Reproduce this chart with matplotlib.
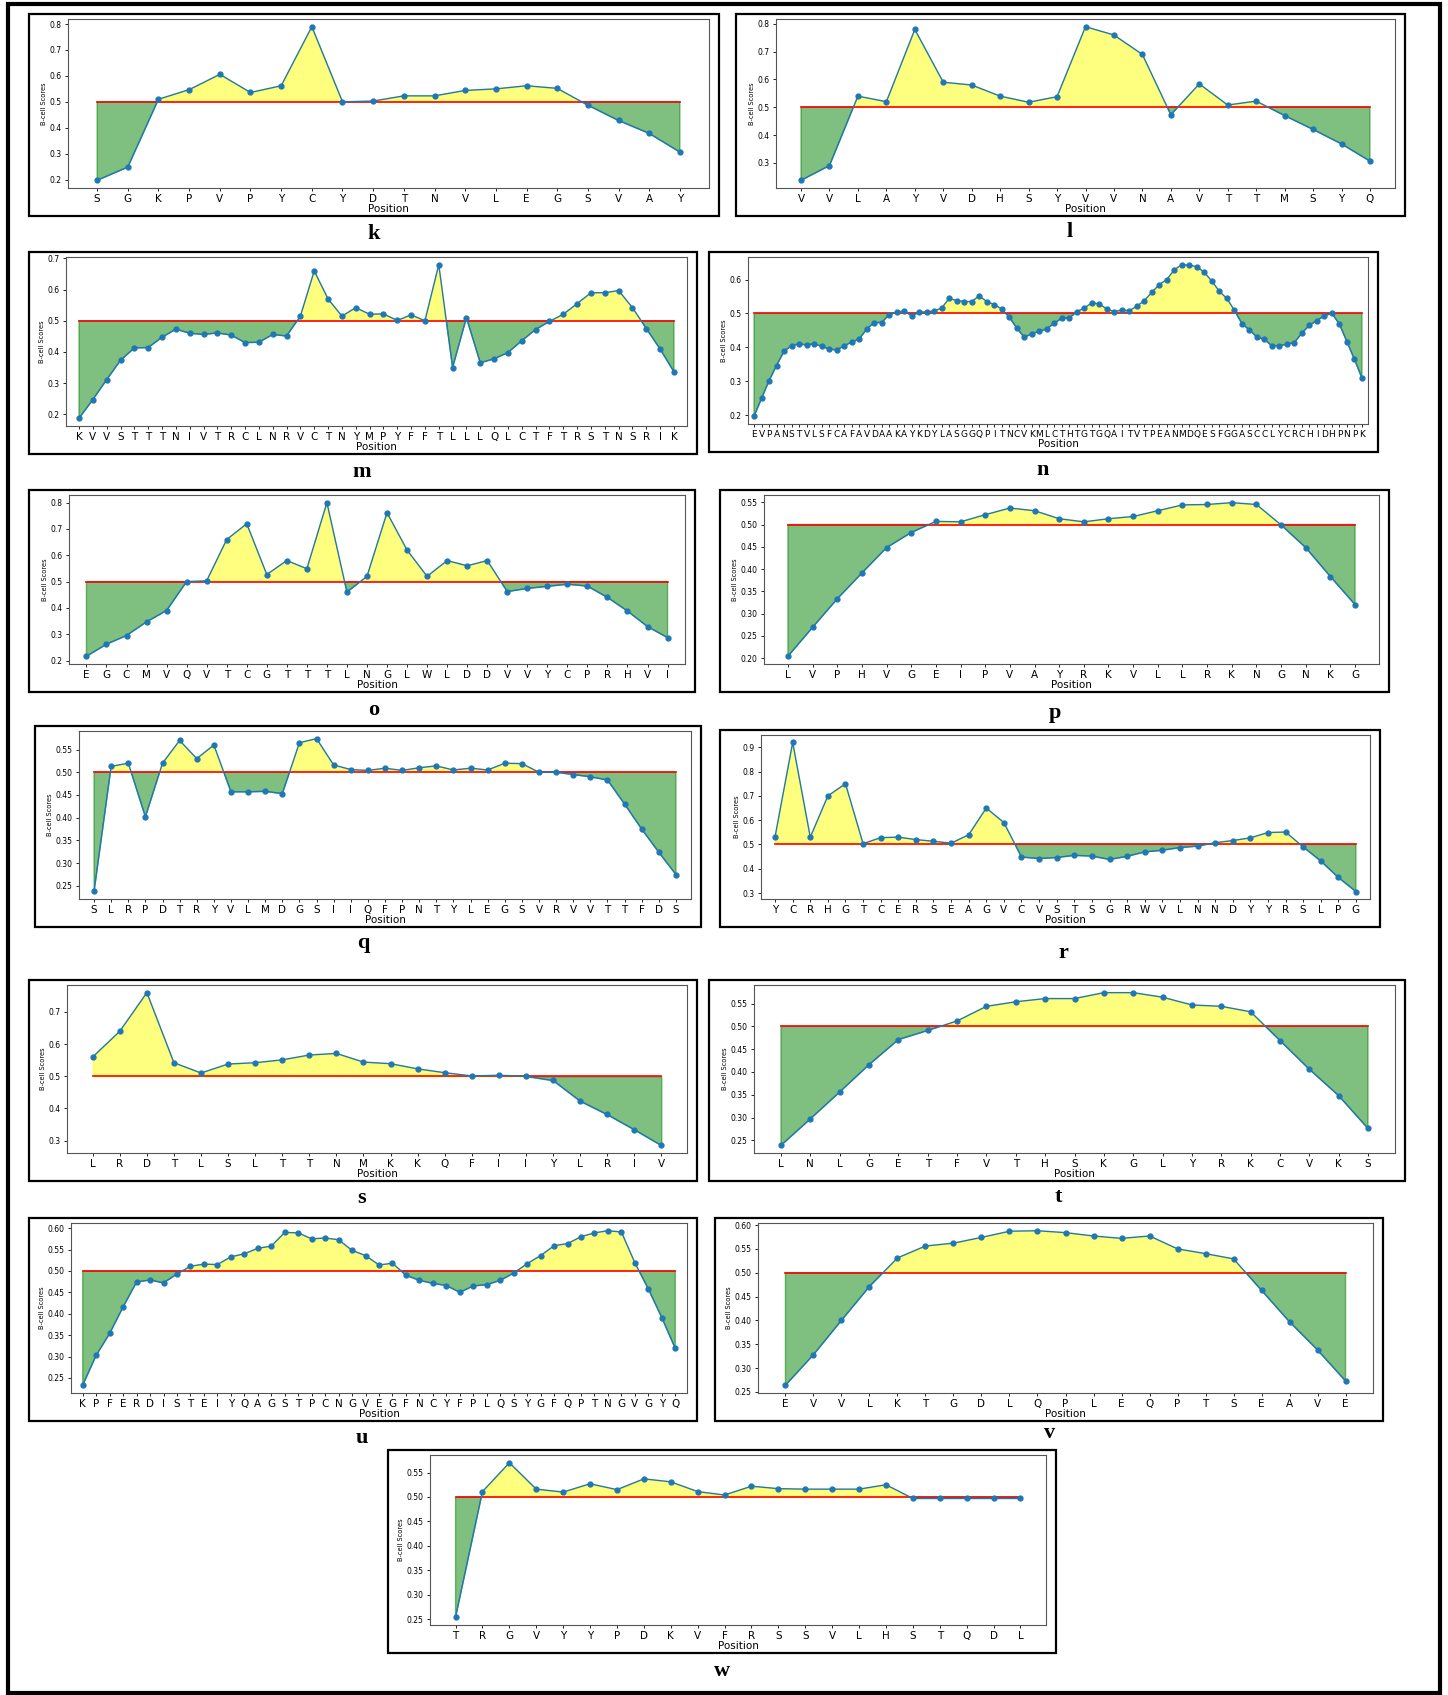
import matplotlib
matplotlib.use('Agg')
import matplotlib.pyplot as plt
import numpy as np
from matplotlib.patches import Rectangle
from matplotlib.ticker import MultipleLocator

# ---- data: residue letters and B-cell scores for each panel ----
k_labels = list("SGKPVPYCYDTNVLEGSVAY")
k_scores = [0.197, 0.248, 0.510, 0.547, 0.606, 0.536, 0.562, 0.790, 0.500, 0.503,
            0.523, 0.523, 0.544, 0.550, 0.562, 0.552, 0.487, 0.428, 0.378, 0.306]

l_labels = list("VVLAYVDHSYVVNAVTTMSYQ")
l_scores = [0.237, 0.290, 0.540, 0.520, 0.780, 0.590, 0.580, 0.540, 0.518, 0.538,
            0.790, 0.760, 0.690, 0.473, 0.584, 0.508, 0.522, 0.470, 0.420, 0.368, 0.306]

m_labels = list("KVVSTTTNIVTRCLNRVCTNYMPYFFTLLLQLCTFTRSTNSRIK")
m_scores = [0.187, 0.247, 0.311, 0.373, 0.413, 0.414, 0.447, 0.473, 0.460, 0.456,
            0.461, 0.454, 0.430, 0.431, 0.456, 0.451, 0.515, 0.660, 0.570, 0.515,
            0.542, 0.521, 0.522, 0.501, 0.519, 0.500, 0.680, 0.350, 0.510, 0.365,
            0.378, 0.398, 0.436, 0.472, 0.498, 0.521, 0.555, 0.590, 0.590, 0.597,
            0.542, 0.475, 0.409, 0.336]

n_labels = list("EVPANSTVLSFCAFAVDAAKAYKDYLASGGQPITNCVKMLCTHTGTGQAITVTPEANMDQESFGGASCCLYCRCHIDHPNPK")
n_scores = [0.196, 0.249, 0.301, 0.346, 0.388, 0.405, 0.410, 0.407, 0.410, 0.403,
            0.395, 0.392, 0.404, 0.415, 0.424, 0.453, 0.473, 0.473, 0.496, 0.503,
            0.508, 0.493, 0.503, 0.505, 0.507, 0.516, 0.544, 0.538, 0.535, 0.535,
            0.552, 0.535, 0.526, 0.513, 0.489, 0.457, 0.429, 0.440, 0.447, 0.454,
            0.471, 0.486, 0.486, 0.505, 0.516, 0.531, 0.528, 0.513, 0.505, 0.510,
            0.508, 0.521, 0.538, 0.562, 0.585, 0.600, 0.629, 0.644, 0.642, 0.638,
            0.621, 0.595, 0.565, 0.544, 0.509, 0.470, 0.451, 0.430, 0.423, 0.404,
            0.405, 0.409, 0.414, 0.442, 0.465, 0.479, 0.493, 0.500, 0.468, 0.416,
            0.364, 0.309]

o_labels = list("EGCMVQVTCGTTTLNGLWLDDVVYCPRHVI")
o_scores = [0.216, 0.262, 0.295, 0.347, 0.390, 0.500, 0.503, 0.660, 0.720, 0.527,
            0.580, 0.549, 0.800, 0.460, 0.520, 0.762, 0.620, 0.520, 0.580, 0.560,
            0.580, 0.462, 0.474, 0.482, 0.490, 0.483, 0.440, 0.388, 0.329, 0.287]

p_labels = list("LVPHVGEIPVAYRKVLLRKNGNKG")
p_scores = [0.204, 0.269, 0.333, 0.391, 0.448, 0.482, 0.507, 0.506, 0.522, 0.537,
            0.531, 0.513, 0.506, 0.513, 0.518, 0.531, 0.544, 0.545, 0.549, 0.545,
            0.499, 0.448, 0.383, 0.320]

q_labels = list("SLRPDTRYVLMDGSIIQFPNTYLEGSVRVVTTFDS")
q_scores = [0.238, 0.513, 0.520, 0.402, 0.520, 0.570, 0.530, 0.560, 0.457, 0.457,
            0.458, 0.453, 0.565, 0.574, 0.516, 0.506, 0.504, 0.509, 0.504, 0.510,
            0.514, 0.505, 0.509, 0.505, 0.520, 0.519, 0.500, 0.500, 0.495, 0.490,
            0.483, 0.430, 0.375, 0.324, 0.275]

r_labels = list("YCRHGTCERSEAGVCVSTSGRWVLNNDYYRSLPG")
r_scores = [0.532, 0.920, 0.530, 0.700, 0.750, 0.503, 0.528, 0.530, 0.520, 0.513,
            0.505, 0.540, 0.650, 0.590, 0.448, 0.442, 0.446, 0.455, 0.452, 0.438,
            0.451, 0.469, 0.476, 0.487, 0.493, 0.507, 0.516, 0.527, 0.549, 0.551,
            0.490, 0.432, 0.364, 0.306]

s_labels = list("LRDTLSLTTNMKKQFIIYLRIV")
s_scores = [0.560, 0.640, 0.760, 0.542, 0.510, 0.538, 0.542, 0.551, 0.566, 0.571,
            0.544, 0.539, 0.523, 0.511, 0.501, 0.503, 0.500, 0.487, 0.423, 0.381,
            0.334, 0.285]

t_labels = list("LNLGETFVTHSKGLYRKCVKS")
t_scores = [0.239, 0.297, 0.356, 0.416, 0.471, 0.491, 0.512, 0.544, 0.554, 0.561,
            0.561, 0.574, 0.574, 0.564, 0.547, 0.544, 0.532, 0.469, 0.406, 0.348, 0.276]

u_labels = list("KPFERDISTEIYQAGSTPCNGVEGFNCYFPLQSYGFQPTNGVGYQ")
u_scores = [0.233, 0.303, 0.354, 0.416, 0.474, 0.479, 0.472, 0.493, 0.511, 0.516,
            0.515, 0.533, 0.540, 0.553, 0.558, 0.590, 0.589, 0.575, 0.577, 0.573,
            0.548, 0.536, 0.514, 0.518, 0.490, 0.478, 0.471, 0.466, 0.450, 0.465,
            0.468, 0.478, 0.495, 0.517, 0.536, 0.559, 0.564, 0.580, 0.589, 0.594,
            0.591, 0.519, 0.458, 0.391, 0.319]

v_labels = list("EVVLKTGDLQPLEQPTSEAVE")
v_scores = [0.264, 0.328, 0.400, 0.471, 0.531, 0.556, 0.562, 0.574, 0.587, 0.588,
            0.584, 0.577, 0.572, 0.577, 0.550, 0.540, 0.529, 0.463, 0.397, 0.338, 0.273]

w_labels = list("TRGVYYPDKVFRSSVLHSTQDL")
w_scores = [0.254, 0.511, 0.570, 0.516, 0.510, 0.527, 0.515, 0.537, 0.531, 0.511,
            0.504, 0.522, 0.517, 0.516, 0.516, 0.516, 0.525, 0.497, 0.497, 0.497,
            0.497, 0.497]

threshold = 0.5

W, H = 1448, 1695
fig = plt.figure(figsize=(W / 100, H / 100), dpi=100)


def fig_rect(x0, y0, x1, y1):
    return [x0 / W, 1 - y1 / H, (x1 - x0) / W, (y1 - y0) / H]


# letter, labels, scores, panel box (px), left offset, y step, letter position,
# xtick size, x padding (in positions)
panels = [
    ('k', k_labels, k_scores, (29, 14, 719, 216), 39, 0.1, (374, 234), 7.5, 0.95),
    ('l', l_labels, l_scores, (736, 14, 1405, 216), 40, 0.1, (1070, 232), 7.5, 0.88),
    ('m', m_labels, m_scores, (29, 252, 697, 454), 37, 0.1, (362, 472), 7.5, 0.94),
    ('n', n_labels, n_scores, (709, 252, 1378, 452), 39, 0.1, (1043, 470), 6.5, 0.8),
    ('o', o_labels, o_scores, (29, 490, 695, 692), 40, 0.1, (374, 710), 7.5, 0.87),
    ('p', p_labels, p_scores, (720, 490, 1389, 692), 44, 0.05, (1055, 713), 7.5, 0.97),
    ('q', q_labels, q_scores, (35, 726, 701, 927), 44, 0.05, (363, 943), 7.5, 0.88),
    ('r', r_labels, r_scores, (720, 730, 1380, 927), 41, 0.1, (1063, 953), 7.5, 0.8),
    ('s', s_labels, s_scores, (29, 980, 697, 1181), 38, 0.1, (362, 1198), 7.5, 0.95),
    ('t', t_labels, t_scores, (709, 980, 1405, 1181), 45, 0.05, (1058, 1197), 7.5, 0.92),
    ('u', u_labels, u_scores, (29, 1218, 697, 1421), 42, 0.05, (362, 1438), 7.5, 0.87),
    ('v', v_labels, v_scores, (715, 1218, 1383, 1421), 43, 0.05, (1050, 1433), 7.5, 0.98),
    ('w', w_labels, w_scores, (388, 1450, 1056, 1653), 42, 0.05, (722, 1671), 7.5, 0.95),
]

for letter, labels, scores, box, left_off, step, lab_xy, xfs, xpad in panels:
    x0, y0, x1, y1 = box
    fig.patches.append(Rectangle((x0 / W, 1 - y1 / H), (x1 - x0) / W, (y1 - y0) / H,
                                 transform=fig.transFigure, fill=False,
                                 ec='black', lw=1.6))
    ax = fig.add_axes(fig_rect(x0 + left_off, y0 + 5, x1 - 10, y1 - 28))
    x = np.arange(len(scores))
    y = np.array(scores)
    ax.fill_between(x, y, threshold, where=y >= threshold, interpolate=True,
                    color='yellow', alpha=0.5)
    ax.fill_between(x, y, threshold, where=y <= threshold, interpolate=True,
                    color='green', alpha=0.5)
    ax.plot(x, np.full(len(x), threshold), color='red', lw=1.2)
    ax.plot(x, y, marker='o', ms=3.5, lw=1, color='#1f77b4')
    ax.set_xlim(-xpad, len(x) - 1 + xpad)
    ax.set_xticks(x)
    ax.set_xticklabels(labels, fontsize=xfs)
    ax.yaxis.set_major_locator(MultipleLocator(step))
    ax.tick_params(axis='y', labelsize=5.5, length=2.5, width=0.6, pad=2)
    ax.tick_params(axis='x', length=2.5, width=0.6, pad=1.5)
    ax.set_xlabel('Position', fontsize=7.5, labelpad=0.5)
    ax.set_ylabel('B-cell Scores', fontsize=4.8, labelpad=2)
    for sp in ax.spines.values():
        sp.set_color('#555555')
        sp.set_linewidth(0.8)
    fig.text(lab_xy[0] / W, 1 - lab_xy[1] / H, letter, ha='center', va='center',
             fontsize=16, fontweight='bold', family='Liberation Serif')

# outer frame
fig.patches.append(Rectangle((8 / W, 2 / H), 1432 / W, 1689 / H,
                             transform=fig.transFigure, fill=False,
                             ec='black', lw=3))

fig.savefig('out.png', dpi=100)
